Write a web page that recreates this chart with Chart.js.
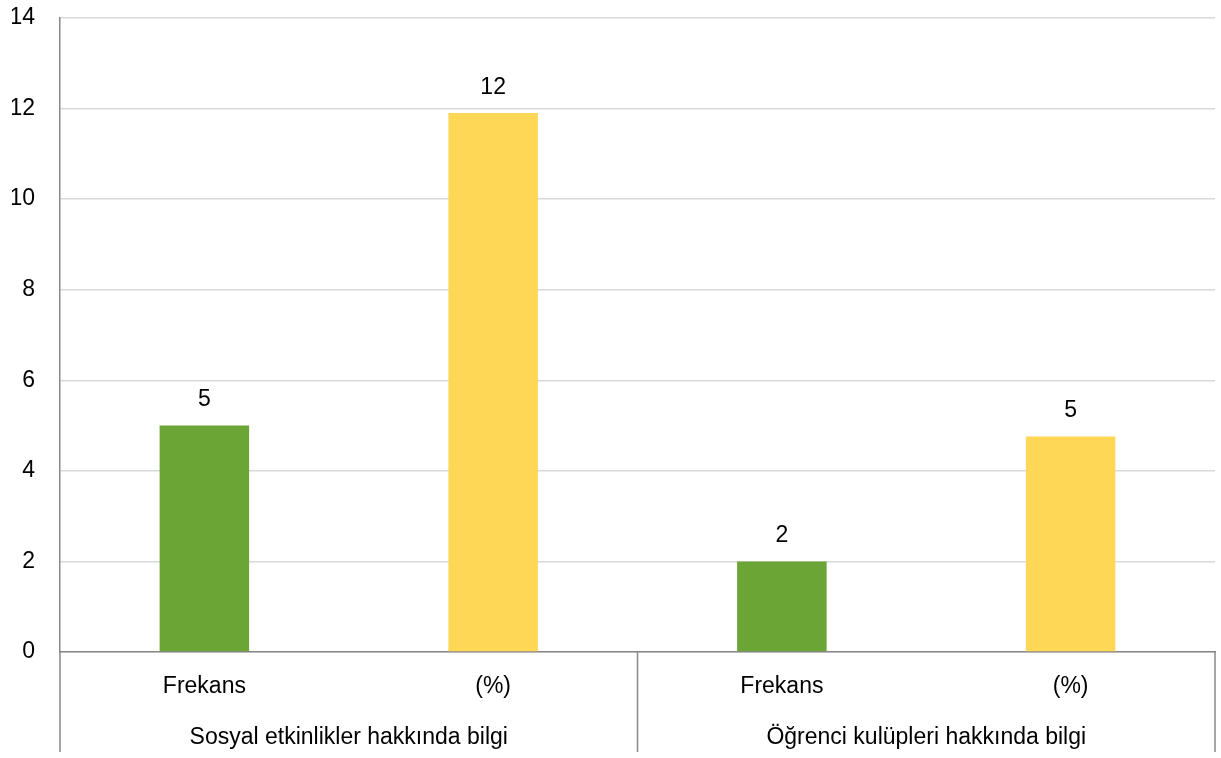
<!DOCTYPE html>
<html>
<head>
<meta charset="utf-8">
<script src="https://cdn.jsdelivr.net/npm/chart.js@4/dist/chart.umd.min.js"></script>
<style>
html,body{margin:0;padding:0;background:#fff;}
#wrap{width:1221px;height:758px;}
</style>
</head>
<body>
<div id="wrap"><canvas id="c" width="1221" height="758"></canvas></div>
<script>
const subLabels = ['Frekans', '(%)', 'Frekans', '(%)'];
const groupLabels = ['Sosyal etkinlikler hakkında bilgi', 'Öğrenci kulüpleri hakkında bilgi'];
const values = [5, 11.9, 2, 4.76];
const valueLabels = ['5', '12', '2', '5'];
const barColors = ['#6AA535', '#FFD757', '#6AA535', '#FFD757'];
const yTicks = [0, 2, 4, 6, 8, 10, 12, 14];

const FONT = "'Liberation Sans', Arial, sans-serif";
const FSIZE = 23;
const AXIS_COLOR = '#888888';

const decorPlugin = {
  id: 'decor',
  afterDatasetsDraw(chart) {
    const ctx = chart.ctx;
    const meta = chart.getDatasetMeta(0);
    ctx.save();
    ctx.font = FSIZE + 'px ' + FONT;
    ctx.fillStyle = '#000';
    ctx.textAlign = 'center';
    ctx.textBaseline = 'bottom';
    meta.data.forEach((bar, i) => {
      ctx.fillText(valueLabels[i], bar.x, bar.y - 14);
    });
    ctx.restore();
  },
  afterDraw(chart) {
    const ctx = chart.ctx;
    const xs = chart.scales.x;
    const x2 = chart.scales.x2;
    const area = chart.chartArea;
    const mid = (xs.getPixelForTick(1) + xs.getPixelForTick(2)) / 2;
    const bottom = x2.bottom;
    ctx.save();
    ctx.strokeStyle = AXIS_COLOR;
    ctx.lineWidth = 1.5;
    [xs.left, mid, xs.right].forEach(px => {
      ctx.beginPath();
      ctx.moveTo(px, area.bottom);
      ctx.lineTo(px, bottom);
      ctx.stroke();
    });
    ctx.restore();
  }
};

new Chart(document.getElementById('c'), {
  type: 'bar',
  data: {
    labels: subLabels,
    datasets: [{
      data: values,
      backgroundColor: barColors,
      barPercentage: 0.31,
      categoryPercentage: 1.0
    }]
  },
  options: {
    responsive: false,
    animation: false,
    layout: { padding: { left: 12, right: 6, top: 0, bottom: 6 } },
    plugins: { legend: { display: false }, tooltip: { enabled: false } },
    scales: {
      y: {
        min: 0, max: 14,
        afterBuildTicks: (s) => { s.ticks = yTicks.map(v => ({ value: v })); },
        afterFit: (s) => { s.width = 48; s.paddingTop = 18; s.paddingBottom = 0; },
        grid: { color: '#D9D9D9', lineWidth: 1.5, drawTicks: false },
        border: { display: true, color: AXIS_COLOR, width: 1.5 },
        ticks: { color: '#000', font: { family: FONT, size: FSIZE }, padding: 25 }
      },
      x: {
        afterFit: (s) => { s.height = 49; },
        grid: { display: false, drawTicks: false },
        border: { display: true, color: AXIS_COLOR, width: 1.5 },
        ticks: { color: '#000', font: { family: FONT, size: FSIZE }, padding: 21, maxRotation: 0 }
      },
      x2: {
        type: 'category',
        position: 'bottom',
        labels: groupLabels,
        offset: true,
        afterFit: (s) => { s.height = 51; },
        grid: { display: false, drawTicks: false },
        border: { display: false },
        ticks: { color: '#000', font: { family: FONT, size: FSIZE }, padding: 23, maxRotation: 0 }
      }
    }
  },
  plugins: [decorPlugin]
});
</script>
</body>
</html>
